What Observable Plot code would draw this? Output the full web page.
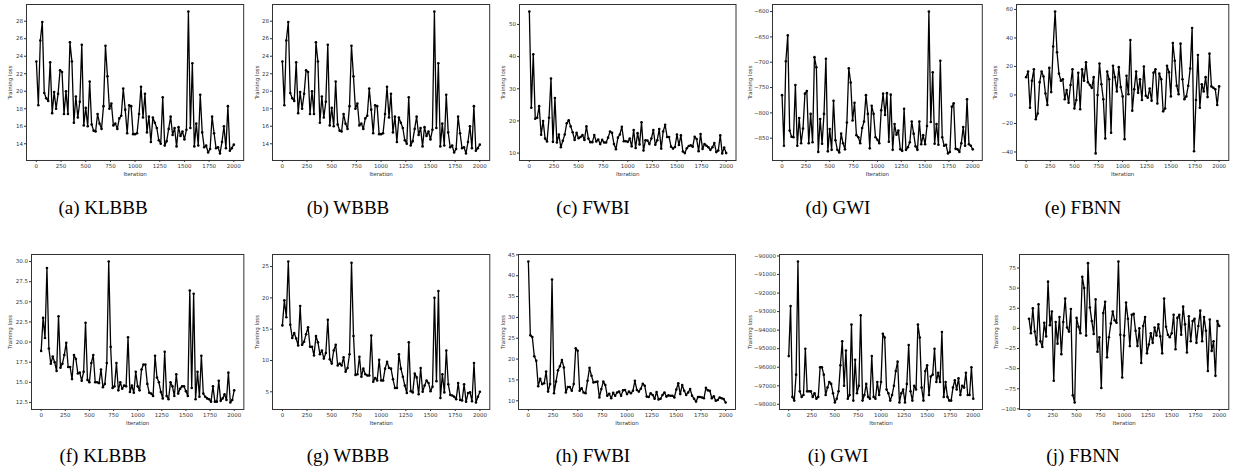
<!DOCTYPE html>
<html><head><meta charset="utf-8">
<script src="https://cdn.jsdelivr.net/npm/d3@7"></script>
<script src="https://cdn.jsdelivr.net/npm/@observablehq/plot@0.6"></script>
<style>
body{margin:0;background:#fff;}
#root{position:relative;width:1235px;height:474px;overflow:hidden;background:#fff;}
.panel{position:absolute;}
#caps{position:absolute;left:0;top:0;}
</style></head><body><div id="root"></div>
<script>
const iterations = d3.range(0, 2001, 20);
const xTicks = [0,250,500,750,1000,1250,1500,1750,2000];

const klbbbTop = [23.4,18.4,25.8,27.9,19.8,19.2,18.9,23.3,17.5,19.9,18.0,19.7,22.4,22.2,17.4,20.0,17.4,25.6,23.4,16.4,19.4,17.0,18.8,25.3,16.1,18.1,16.0,21.1,16.2,15.5,15.4,17.4,16.3,15.7,18.3,25.2,21.7,18.0,18.6,16.1,16.3,15.7,16.9,17.2,20.3,17.9,15.2,18.4,18.3,15.1,15.1,15.2,17.4,20.5,17.0,19.7,15.3,17.1,14.2,17.0,16.4,15.8,14.4,14.0,19.3,13.8,14.3,15.7,17.1,15.0,15.8,13.7,15.9,14.9,15.4,14.5,15.6,29.1,15.8,23.2,13.7,16.3,13.8,19.6,15.3,13.6,13.8,13.0,13.4,17.1,15.2,13.5,13.6,12.9,14.2,16.0,13.5,18.3,13.2,13.5,13.9];
const wbbbTop = [23.4,18.4,25.8,27.9,19.8,19.2,18.9,23.3,17.5,19.9,18.0,19.7,22.4,22.2,17.4,20.0,17.4,25.6,23.4,16.4,19.4,17.0,18.8,25.3,16.1,18.1,16.0,21.1,16.2,15.5,15.4,17.4,16.3,15.7,18.3,25.2,21.7,18.0,18.6,16.1,16.3,15.7,16.9,17.2,20.3,17.9,15.2,18.4,18.3,15.1,15.1,15.2,17.4,20.5,17.0,19.7,15.3,17.1,14.2,17.0,16.4,15.8,14.4,14.0,19.3,13.8,14.3,15.7,17.1,15.0,15.8,13.7,15.9,14.9,15.4,14.5,15.6,29.1,15.8,23.2,13.7,16.3,13.8,19.6,15.3,13.6,13.8,13.0,13.4,17.1,15.2,13.5,13.6,12.9,14.2,16.0,13.5,18.3,13.2,13.5,13.9];
const fwbiTop = [54.0,24.1,40.7,20.7,21.0,24.6,15.7,20.0,14.5,13.6,21.0,33.2,13.5,27.1,13.3,15.8,11.8,13.8,15.8,19.3,20.2,18.3,16.5,14.1,16.3,14.6,15.0,15.6,14.1,18.3,14.5,13.4,13.4,15.6,13.6,14.2,12.8,14.1,13.3,13.3,14.8,16.7,16.3,12.8,11.2,14.8,15.8,18.2,13.7,13.7,13.5,14.5,12.1,17.2,11.6,16.2,12.7,19.6,10.8,14.0,13.9,12.8,14.5,17.2,12.6,14.0,17.5,11.4,16.7,18.8,15.0,15.0,12.0,11.4,11.9,15.8,12.5,15.5,10.5,10.0,11.5,12.2,12.4,12.0,15.1,14.4,10.6,15.9,11.3,12.8,12.3,11.8,11.0,11.8,13.1,10.3,10.8,15.5,9.9,11.7,10.0];
const gwiTop = [-765,-865,-698,-647,-835,-847,-848,-745,-865,-810,-860,-831,-762,-757,-860,-802,-858,-690,-710,-877,-812,-861,-802,-693,-876,-832,-873,-776,-854,-873,-878,-841,-860,-872,-819,-712,-740,-815,-780,-844,-848,-860,-830,-817,-765,-802,-870,-786,-802,-848,-853,-860,-795,-762,-804,-761,-857,-764,-873,-822,-843,-835,-872,-875,-792,-873,-868,-858,-817,-841,-866,-873,-817,-862,-844,-862,-826,-600,-818,-720,-861,-822,-863,-697,-848,-865,-863,-880,-877,-788,-781,-871,-872,-877,-860,-828,-865,-773,-862,-865,-872];
const fbnnTop = [12.5,16.5,-9,10,18,-17,-13,9,16.5,13,1,-7,19,2,34,58.5,30,15,10,11,-3,3.5,-5.5,7,18,-9.5,-3.5,15.5,-10,18,10,23,9,7,5,12.5,-41,0,22,7.5,-3,-30.5,16.5,11,-26.5,20.5,12.5,2.5,19.5,5.5,-1,-31,13.5,0.5,38.5,-11,4,16.5,1.5,11,-3.5,20,-0.5,-2,4.5,-4,15.5,18,-6,15,11,-11.5,-9.5,20.5,16,-1,36.5,24,6.5,0.5,36,11,-3,-1,6.5,18.5,47,-39.5,-3.5,28,-9,7.5,2.5,12.5,-1.5,29,6,5,4,-7,6];

const klbbbBot = [18.9,23.0,20.5,29.2,19.2,17.3,18.2,17.5,16.4,23.2,16.8,17.3,18.4,19.9,16.9,16.9,15.4,18.4,17.9,16.1,16.2,15.2,16.3,22.4,15.3,15.0,17.4,18.4,15.0,15.0,14.9,16.6,14.4,14.8,17.4,30.0,19.4,14.3,14.5,17.4,14.0,15.0,14.2,14.6,14.5,20.6,13.8,14.6,13.7,16.3,14.5,14.0,16.6,17.2,17.2,14.8,13.7,13.6,13.3,18.3,15.6,15.0,13.8,13.0,18.8,13.3,12.9,15.0,14.5,13.3,16.0,13.6,14.2,14.5,14.5,13.9,13.3,26.4,14.3,26.0,12.9,16.3,13.2,18.3,13.6,13.2,13.0,12.9,12.6,14.5,12.6,12.6,15.2,12.7,13.0,13.5,12.8,16.2,12.5,12.8,14.0];
const wbbbBot = [15.6,19.6,16.9,25.8,15.7,13.6,14.4,13.5,12.4,18.7,12.5,13.0,14.2,15.3,12.2,12.2,10.8,13.9,12.9,11.0,11.6,10.3,11.2,16.5,10.2,9.5,11.6,12.5,9.2,9.5,9.2,10.5,8.2,8.8,11.0,25.6,13.9,7.7,7.8,10.6,7.4,8.7,7.8,7.6,7.6,14.0,6.6,7.2,6.8,10.1,6.8,6.8,8.7,9.8,8.8,8.7,7.0,5.6,5.6,11.0,8.7,7.4,6.0,4.8,12.9,5.1,4.9,7.9,7.3,4.6,8.8,5.0,6.0,6.8,6.4,5.1,5.8,20.0,6.7,21.1,4.0,7.8,4.9,11.6,6.2,4.5,4.4,4.2,3.8,6.4,3.7,3.6,6.2,3.4,4.8,4.9,3.5,9.6,3.3,4.2,5.0];
const fwbiBot = [43.4,25.7,25.3,20.7,19.6,13.5,15.3,14.0,14.2,17.0,12.2,14.0,39.1,11.8,14.6,17.3,18.3,19.8,18.0,12.0,13.3,13.3,12.4,14.0,22.6,22.0,12.4,13.0,12.0,11.8,14.8,17.9,16.0,14.4,14.5,14.6,10.8,12.8,14.6,13.8,11.2,11.7,10.6,11.9,11.2,12.0,12.2,11.2,12.5,12.6,11.6,12.2,11.8,12.4,14.8,12.6,12.2,12.9,14.1,13.6,11.0,10.9,11.8,11.4,10.5,12.1,10.3,10.5,11.4,12.0,11.0,11.3,11.2,11.2,10.8,12.7,14.2,11.6,13.8,12.4,11.4,12.0,12.8,11.2,10.5,9.8,10.9,10.9,10.8,10.6,13.1,12.5,12.4,10.6,11.1,10.0,10.2,10.8,10.6,10.4,9.6];
const gwiBot = [-95400,-92700,-97600,-97800,-96400,-90300,-97300,-97600,-97500,-95000,-97300,-97300,-97300,-97600,-97400,-97700,-97600,-96000,-96000,-96400,-97500,-97100,-96800,-96900,-97400,-97900,-97700,-97300,-95900,-94600,-97000,-95100,-97700,-97500,-93700,-97800,-95600,-97400,-97000,-93200,-97800,-97500,-96900,-97600,-97700,-95400,-97600,-97700,-96800,-97500,-96800,-94200,-94400,-97200,-97400,-97800,-97500,-97000,-96200,-95700,-97900,-97400,-97200,-97900,-96900,-94800,-97300,-97800,-97000,-97200,-93700,-94400,-97100,-97800,-96200,-95900,-97500,-96500,-96400,-95000,-96800,-96300,-96800,-94100,-97600,-96800,-97600,-97800,-97800,-97100,-96700,-97200,-96600,-97500,-97000,-97100,-96300,-97500,-97500,-96000,-97700];
const fbnnBot = [12,-6,25,-4,-20,30,-16,-23,7,-10,58,4,21,-65,8,-19,14,-32,8,37,1,-4,24,-83,-92,13,2,-6,64,50,-9,81,26,9,-7,36,-29,-11,-74,19,33,-36,-11,6,21,10,7,83,-8,-61,-9,32,12,-22,17,18,-3,-22,0,-43,3,14,-31,-20,-6,-18,1,-9,5,-10,-31,37,2,-8,-11,-6,17,-26,13,17,-8,27,5,-30,15,-16,9,12,-18,3,22,-16,14,-3,-53,11,-28,-16,-59,9,3];

const yTicks = {
  klbbbTop: [14,16,18,20,22,24,26,28],
  fwbiTop: [10,20,30,40,50],
  gwiTop: [-850,-800,-750,-700,-650,-600],
  fbnnTop: [-40,-20,0,20,40,60],
  klbbbBot: [12.5,15,17.5,20,22.5,25,27.5,30],
  wbbbBot: [5,10,15,20,25],
  fwbiBot: [10,15,20,25,30,35,40,45],
  gwiBot: [-98000,-97000,-96000,-95000,-94000,-93000,-92000,-91000,-90000],
  fbnnBot: [-100,-75,-50,-25,0,25,50,75]
};

const captions = ["(a) KLBBB","(b) WBBB","(c) FWBI","(d) GWI","(e) FBNN","(f) KLBBB","(g) WBBB","(h) FWBI","(i) GWI","(j) FBNN"];

// layout (pixel frames)
const rightEdges = [243, 489, 735, 982, 1228];
const panels = [
  {vals: klbbbTop, ticks: yTicks.klbbbTop, fmt: "d", x0: 25.8, row: 0, lab: 15.8},
  {vals: wbbbTop, ticks: yTicks.klbbbTop, fmt: "d", x0: 271.8, row: 0, lab: 15},
  {vals: fwbiTop, ticks: yTicks.fwbiTop, fmt: "d", x0: 518.5, row: 0, lab: 15.2},
  {vals: gwiTop, ticks: yTicks.gwiTop, fmt: "d", x0: 772.2, row: 0, lab: 22},
  {vals: fbnnTop, ticks: yTicks.fbnnTop, fmt: "d", x0: 1015.7, row: 0, lab: 20.7},
  {vals: klbbbBot, ticks: yTicks.klbbbBot, fmt: ".1f", x0: 30.65, row: 1, lab: 20.6},
  {vals: wbbbBot, ticks: yTicks.wbbbBot, fmt: "d", x0: 271.7, row: 1, lab: 14.4},
  {vals: fwbiBot, ticks: yTicks.fwbiBot, fmt: "d", x0: 518, row: 1, lab: 14.7},
  {vals: gwiBot, ticks: yTicks.gwiBot, fmt: "d", x0: 779, row: 1, lab: 29},
  {vals: fbnnBot, ticks: yTicks.fbnnBot, fmt: "d", x0: 1018.7, row: 1, lab: 22.7}
];
const rows = [{y0: 4, y1: 160, capY: 214, capX0: 103}, {y0: 254, y1: 409, capY: 462, capX0: 103}];

const root = document.getElementById("root");
const mL = 40, mR = 6, mT = 6, mB = 24;

panels.forEach((p, i) => {
  const r = rows[p.row];
  const x1 = rightEdges[i % 5];
  const fw = x1 - p.x0, fh = r.y1 - r.y0;
  const data = iterations.map((it, k) => ({it, v: p.vals[k]}));
  const [mn, mx] = d3.extent(p.vals);
  const pad = (mx - mn) * 0.05;
  const chart = Plot.plot({
    width: fw + mL + mR,
    height: fh + mT + mB,
    marginLeft: mL, marginRight: mR, marginTop: mT, marginBottom: mB,
    style: {fontFamily: "DejaVu Sans", fontSize: "5.5px", color: "#333", background: "transparent", overflow: "visible"},
    x: {domain: [-100, 2100]},
    y: {domain: [mn - pad, mx + pad]},
    marks: [
      Plot.axisX({ticks: xTicks, tickFormat: d3.format("d"), tickSize: 2, tickPadding: 1.5, label: "Iteration", labelAnchor: "center", labelArrow: "none", labelOffset: 15.5}),
      Plot.axisY({ticks: p.ticks, tickFormat: d3.format(p.fmt), tickSize: 2, tickPadding: 1.5, label: "Training loss", labelAnchor: "center", labelArrow: "none", labelOffset: p.lab + 2.8}),
      Plot.line(data, {x: "it", y: "v", stroke: "black", strokeWidth: 1.3}),
      Plot.dot(data, {x: "it", y: "v", r: 1.3, fill: "black"}),
      Plot.frame({stroke: "#333", strokeWidth: 1})
    ]
  });
  chart.classList.add("panel");
  chart.style.left = (p.x0 - mL) + "px";
  chart.style.top = (r.y0 - mT) + "px";
  chart.style.position = "absolute";
  root.appendChild(chart);
});

// captions
const ns = "http://www.w3.org/2000/svg";
const caps = document.createElementNS(ns, "svg");
caps.setAttribute("id", "caps");
caps.setAttribute("width", 1235);
caps.setAttribute("height", 474);
captions.forEach((c, i) => {
  const r = rows[Math.floor(i / 5)];
  const t = document.createElementNS(ns, "text");
  t.setAttribute("x", r.capX0 + 245 * (i % 5));
  t.setAttribute("y", r.capY);
  t.setAttribute("text-anchor", "middle");
  t.setAttribute("font-family", "Liberation Serif, Times New Roman, serif");
  t.setAttribute("font-size", "19");
  t.setAttribute("fill", "#000");
  t.textContent = c;
  caps.appendChild(t);
});
root.appendChild(caps);
</script></body></html>
